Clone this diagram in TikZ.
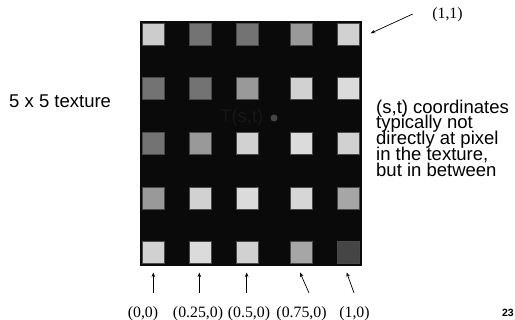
\documentclass[tikz,border=0pt]{standalone}
\usepackage{fontspec}
\setmainfont{Liberation Serif}
\newfontfamily\arialfont{Liberation Sans}
\usetikzlibrary{arrows.meta}
\definecolor{texbg}{HTML}{0A0A0A}
\definecolor{tedge}{HTML}{4A4A4A}
\definecolor{dotgray}{HTML}{444444}
\definecolor{faint}{HTML}{161616}
\newcommand{\tightlines}{\setlength{\lineskiplimit}{-30pt}}
\tikzset{
  texel/.style={draw=tedge, line width=0.6pt, minimum width=22pt, minimum height=22pt,
                inner sep=0pt, anchor=north west},
  sanslabel/.style={font=\arialfont\fontsize{18.5}{18.5}\selectfont, inner sep=0pt, anchor=base west},
  noteblock/.style={font=\arialfont\fontsize{18.5}{15.7}\selectfont\tightlines,
                    align=left, inner sep=0pt, anchor=base west},
  coordlabel/.style={font=\fontsize{15.8}{15.8}\selectfont, inner sep=0pt, anchor=base},
  pointer/.style={-{Stealth[length=4.5pt,width=3.5pt]}, line width=0.7pt},
}
\begin{document}
\begin{tikzpicture}[x=1pt,y=-1pt]
\useasboundingbox (0,0) rectangle (515,320);
% texture background
\fill[texbg] (140,21) rectangle (362,266);
% 5x5 texels: gray levels per row, top to bottom
\foreach \row/\yy/\ga/\gb/\gc/\gd/\ge in {
  1/22.7/80/45/45/60/82,
  2/77.3/45/45/60/82/86,
  3/132/45/60/82/86/82,
  4/186.7/60/82/86/84/65,
  5/241/82/86/82/65/27}{
  \foreach \col/\xx/\g in {1/141.7/\ga, 2/188.7/\gb, 3/236.3/\gc, 4/290/\gd, 5/337.3/\ge}{
    \node[texel, fill=white!\g!black] (t\row\col) at (\xx,\yy) {};
  }
}
% sample point
\node[sanslabel, text=faint] (tst) at (220,123) {T(s,t)};
\node[circle, fill=dotgray, minimum size=7pt, inner sep=0pt] (dot) at (274,118) {};
% side texts (block anchored on the baseline of its last line)
\node[sanslabel] (size) at (9,108) {5 x 5 texture};
\node[noteblock] (note) at (376,176.1) {(s,t) coordinates\\typically not\\directly at pixel\\in the texture,\\but in between};
% coordinate labels
\node[coordlabel] (c00) at (143,318) {(0,0)};
\node[coordlabel] (c25) at (198,318) {(0.25,0)};
\node[coordlabel] (c50) at (249,318) {(0.5,0)};
\node[coordlabel] (c75) at (301.5,318) {(0.75,0)};
\node[coordlabel] (c10) at (354.5,318) {(1,0)};
\node[coordlabel] (c11) at (447.5,18.3) {(1,1)};
% pointer ends
\coordinate (p1a) at (153.3,293);   \coordinate (p1b) at (153.3,272.5);
\coordinate (p2a) at (199.3,293);   \coordinate (p2b) at (199.3,272.5);
\coordinate (p3a) at (246.7,293);   \coordinate (p3b) at (246.7,272.5);
\coordinate (p4a) at (309,293);     \coordinate (p4b) at (300,272.5);
\coordinate (p5a) at (354,293);     \coordinate (p5b) at (346.7,272.5);
\coordinate (p6a) at (412.7,14);    \coordinate (p6b) at (370.7,33.3);
\foreach \p in {1,...,6}{ \draw[pointer] (p\p a) -- (p\p b); }
% page number
\node[font=\arialfont\bfseries\fontsize{10.5}{10.5}\selectfont, inner sep=0pt, anchor=base east] (page) at (514,317) {23};
\end{tikzpicture}
\end{document}
